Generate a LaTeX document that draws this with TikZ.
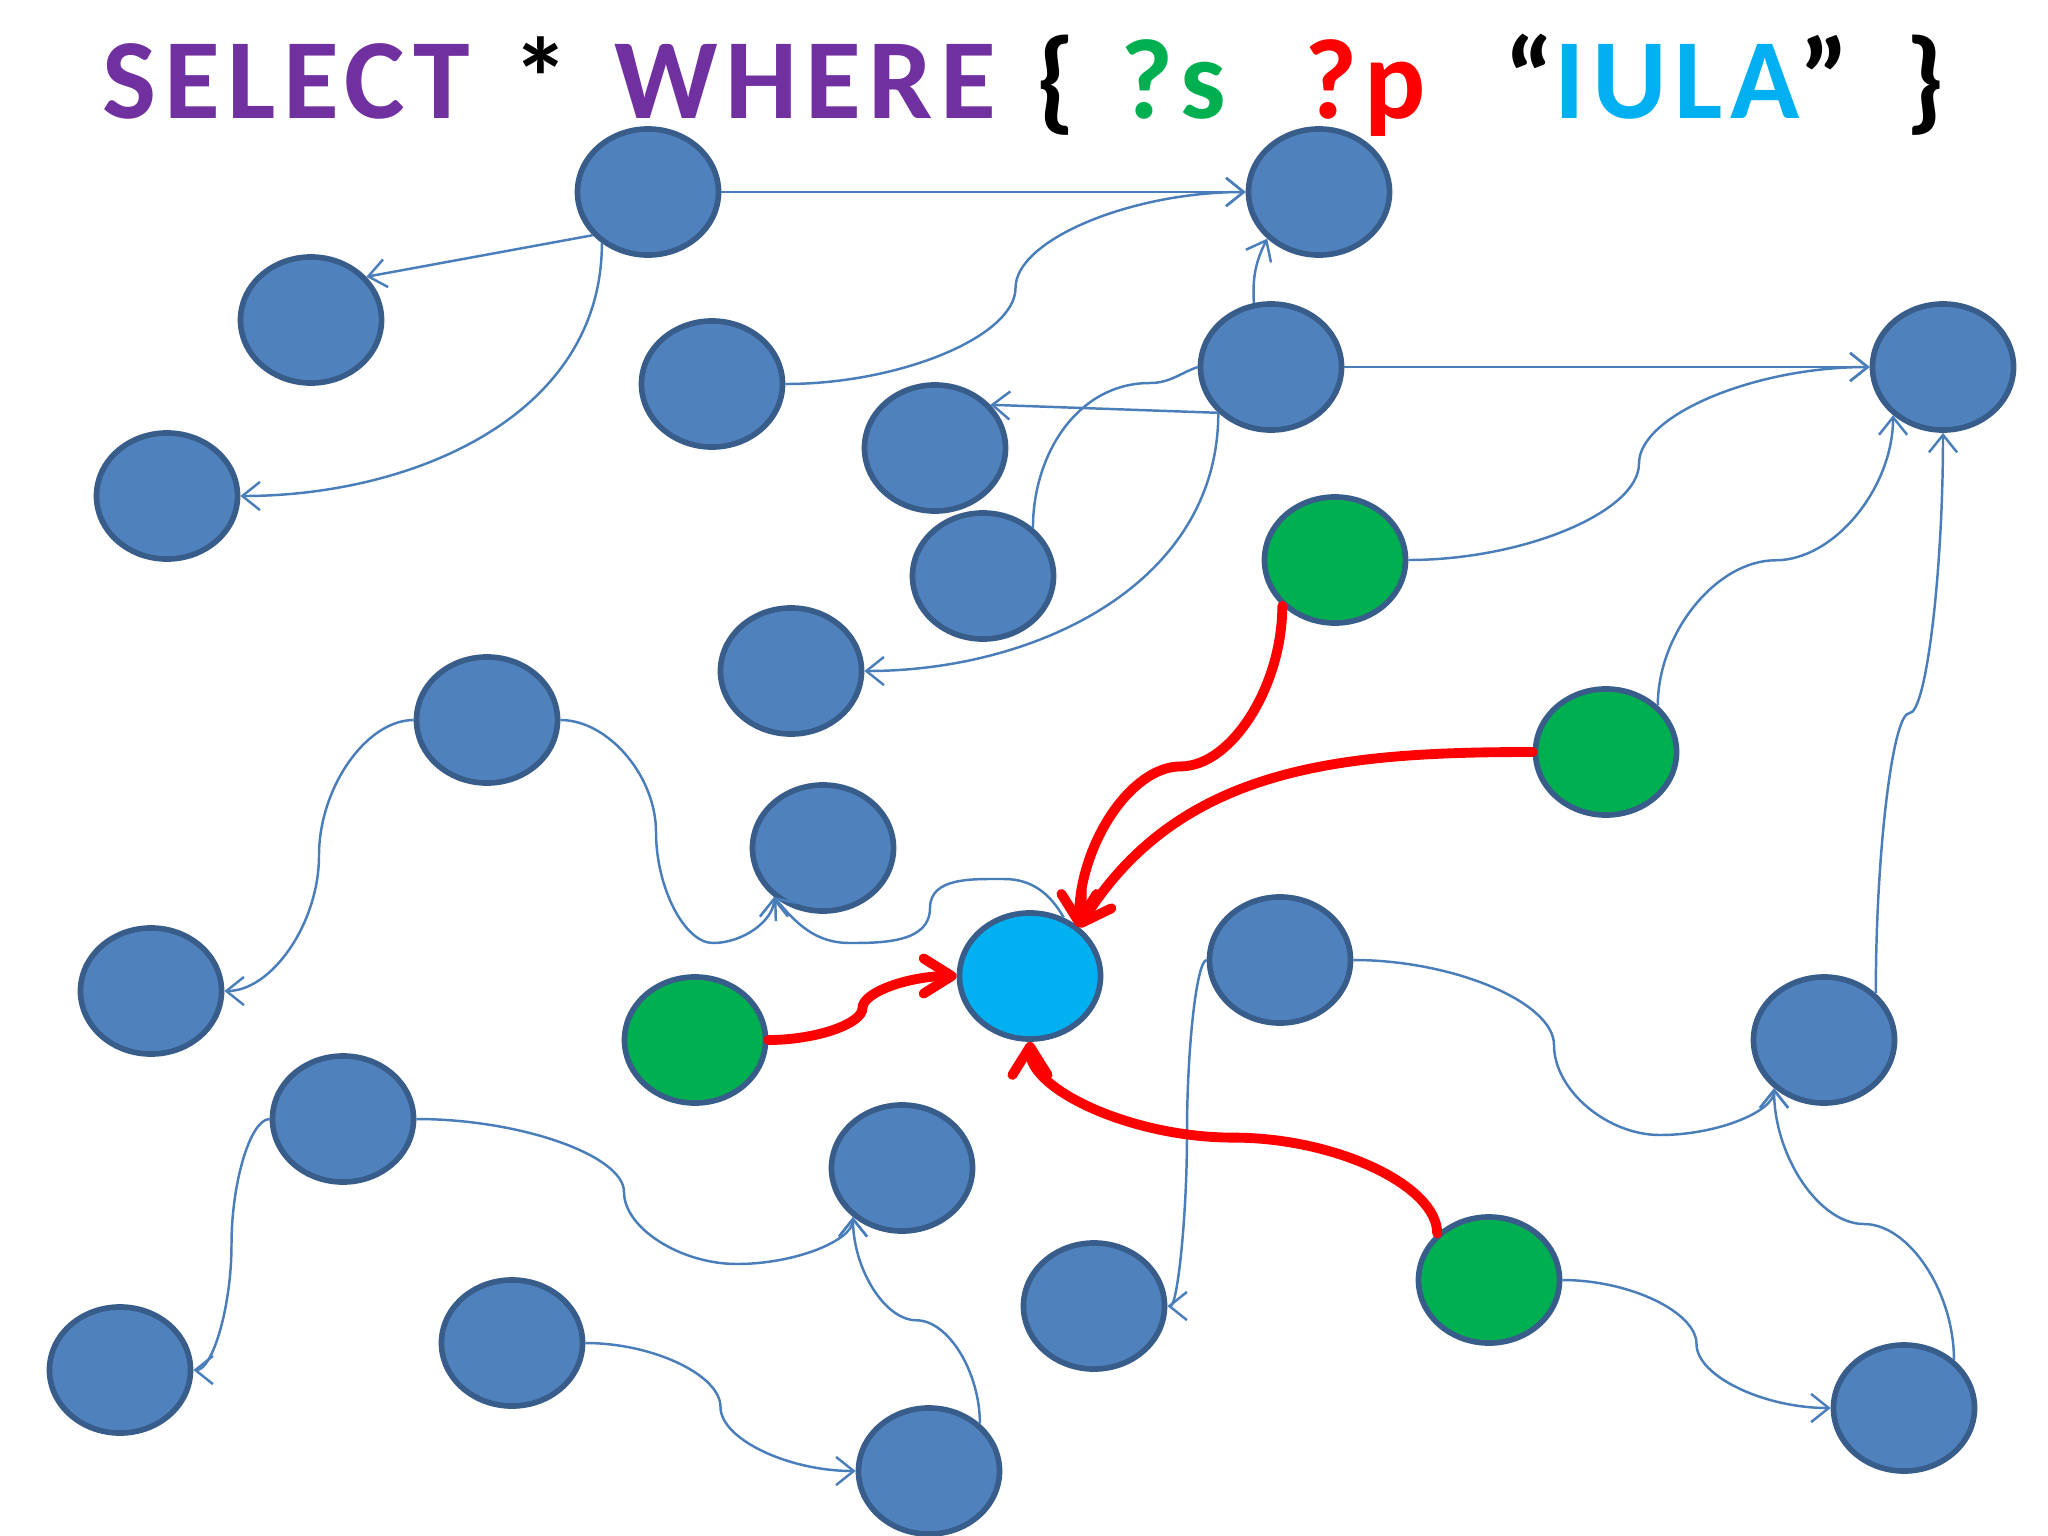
\documentclass[tikz,border=0pt]{standalone}
\usepackage{fontspec}
\newfontfamily\titlefont[LetterSpace=6.5]{Carlito}
\usetikzlibrary{shapes.geometric, arrows.meta, calc}

\definecolor{nodeblue}{HTML}{4F81BD}
\definecolor{nodeline}{HTML}{385D8A}
\definecolor{linkblue}{HTML}{4A7EBB}
\definecolor{subjgreen}{HTML}{00B050}
\definecolor{litcyan}{HTML}{00B0F0}
\definecolor{kwpurple}{HTML}{7030A0}

\tikzset{
  res/.style={ellipse, draw=nodeline, line width=1.6pt, fill=nodeblue,
    minimum width=1.41cm, minimum height=1.26cm, inner sep=0pt},
  subj/.style={res, fill=subjgreen},
  litnode/.style={res, fill=litcyan},
  link/.style={linkblue, line width=0.7pt, -{Straight Barb[length=5pt,width=8pt]}},
  hit/.style={red, line width=2.8pt, line cap=round, -{Straight Barb[length=8pt,width=10pt,round]}},
  kw/.style={anchor=base west, inner sep=0pt, font=\titlefont\bfseries\fontsize{32.5}{39}\selectfont},
  % curved connectors: horizontal ends, vertical in the middle
  hs/.style={to path={let \p1=(\tikztostart), \p2=(\tikztotarget) in
    .. controls ({\x1+(\x2-\x1)/4},\y1) and ({(\x1+\x2)/2},{\y1+(\y2-\y1)/4}) .. ({(\x1+\x2)/2},{(\y1+\y2)/2})
    .. controls ({(\x1+\x2)/2},{\y1+3*(\y2-\y1)/4}) and ({\x1+3*(\x2-\x1)/4},\y2) .. (\tikztotarget) \tikztonodes}},
  % vertical ends, horizontal in the middle
  vs/.style={to path={let \p1=(\tikztostart), \p2=(\tikztotarget) in
    .. controls (\x1,{\y1+(\y2-\y1)/4}) and ({\x1+(\x2-\x1)/4},{(\y1+\y2)/2}) .. ({(\x1+\x2)/2},{(\y1+\y2)/2})
    .. controls ({\x1+3*(\x2-\x1)/4},{(\y1+\y2)/2}) and (\x2,{\y1+3*(\y2-\y1)/4}) .. (\tikztotarget) \tikztonodes}},
  % one bend: horizontal then vertical, and the other way round
  hv/.style={to path={let \p1=(\tikztostart), \p2=(\tikztotarget) in
    .. controls ({(\x1+\x2)/2},\y1) and (\x2,{(\y1+\y2)/2}) .. (\tikztotarget) \tikztonodes}},
  vh/.style={to path={let \p1=(\tikztostart), \p2=(\tikztotarget) in
    .. controls (\x1,{(\y1+\y2)/2}) and ({(\x1+\x2)/2},\y2) .. (\tikztotarget) \tikztonodes}},
}

\begin{document}
\begin{tikzpicture}[x=0.01cm, y=0.01cm]
\useasboundingbox (0,0) rectangle (2048,-1536);

% the query
\node[kw, text=kwpurple] (sel) at (102,-118) {SELECT};
\node[kw] (star) at (512,-118) {*};
\node[kw, text=kwpurple] (where) at (614,-118) {WHERE};
\node[kw] (lbr) at (1036,-118) {\{};
\node[kw, text=subjgreen] (svar) at (1120,-118) {?s};
\node[kw, text=red] (pvar) at (1304,-118) {?p};
\node[kw, text=litcyan] (lit) at (1504,-118) {{\color{black}“}IULA{\color{black}”}};
\node[kw] (rbr) at (1905,-118) {\}};

% resources
\node[res] (n1) at (648,-192) {};
\node[res] (n2) at (1319,-192) {};
\node[res] (n3) at (311,-320) {};
\node[res] (n4) at (712,-384) {};
\node[res] (n5) at (1271,-367) {};
\node[res] (n6) at (1943,-367) {};
\node[res] (n7) at (167,-496) {};
\node[res] (n8) at (935,-448) {};
\node[res] (n9) at (983,-576) {};
\node[res] (n10) at (791,-671) {};
\node[res] (n11) at (487,-720) {};
\node[res] (n12) at (823,-848) {};
\node[res] (n13) at (151,-991) {};
\node[res] (n14) at (1280,-960) {};
\node[res] (n15) at (1824,-1040) {};
\node[res] (n16) at (343,-1119) {};
\node[res] (n17) at (902,-1168) {};
\node[res] (n18) at (1094,-1306) {};
\node[res] (n19) at (120,-1370) {};
\node[res] (n20) at (512,-1343) {};
\node[res] (n21) at (929,-1471) {};
\node[res] (n22) at (1904,-1408) {};

% subjects that match
\node[subj] (s1) at (1335,-560) {};
\node[subj] (s2) at (1606,-752) {};
\node[subj] (s3) at (695,-1040) {};
\node[subj] (s4) at (1489,-1280) {};
\node[litnode] (iula) at (1030,-976) {};

% links
\draw[link] (n1.east) -- (n2.west);
\draw[link] (n1.218) -- (n3.38);
\draw[link] (n1.228) to[out=-90,in=0] (n7.east);
\draw[link] (n4.east) to[hs] (n2.west);
\draw[link] (n5.105) to[bend left=15] (n2.222);
\draw[link] (n5.east) -- (n6.west);
\draw[link] (n5.221) -- (n8.38);
\draw[link, -] (n9.44) to[out=90,in=180] (1150,-383) to[out=0,in=200] (n5.west);
\draw[link] (n5.221) to[out=-90,in=0] (n10.east);
\draw[link] (s1.east) to[hs] (n6.west);
\draw[link] (s2.42) to[vs] (n6.224);
\draw[link] (n15.42) to[vs] (n6.south);
\draw[link] (n11.west) to[hs] (n13.east);
\draw[link] (n11.east) to[hv] (656,-832) to[vh] (713,-943) to[hv] (n12.225);
\draw[link] (iula.60) to[out=120,in=0] (1004,-879) to[out=180,in=90] (930,-908)
  to[out=-90,in=0] (850,-943) to[out=180,in=310] (n12.225);
\draw[link] (n14.west) to[hs] (n18.east);
\draw[link] (n14.east) to[hv] (1554,-1045) to[vh] (1660,-1135) to[hv] (n15.224);
\draw[link] (n16.west) to[hs] (n19.east);
\draw[link] (n16.east) to[hv] (624,-1192) to[vh] (737,-1264) to[hv] (n17.225);
\draw[link] (n21.43) to[vs] (n17.225);
\draw[link] (n20.east) to[hs] (n21.west);
\draw[link] (s4.east) to[hs] (n22.west);
\draw[link] (n22.44) to[vs] (n15.224);

% matches
\draw[hit] (s1.221) to[vs] (iula.45);
\draw[hit] (s2.west) to[out=180,in=58] (iula.45);
\draw[hit] (s3.east) to[hs] (iula.west);
\draw[hit] (s4.138) to[vs] (iula.south);
\end{tikzpicture}
\end{document}
